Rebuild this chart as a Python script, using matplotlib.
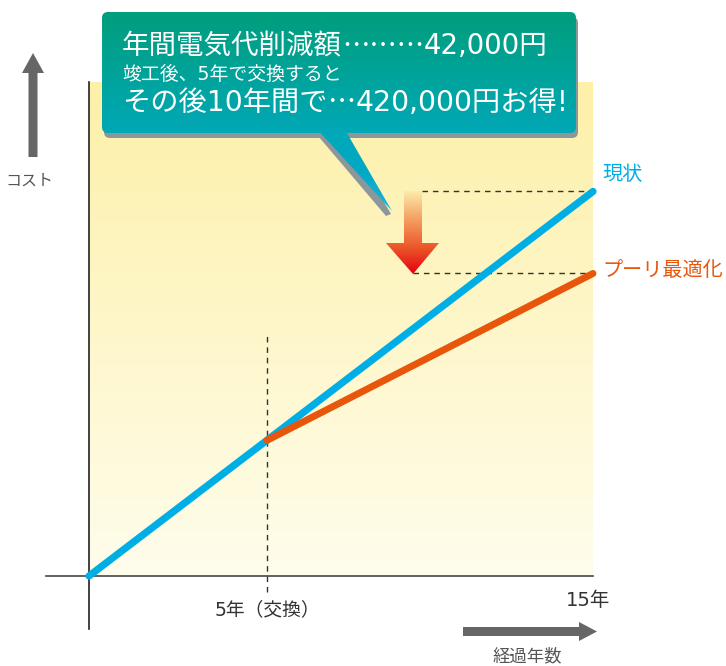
import re
import numpy as np
import matplotlib
matplotlib.use("Agg")
import matplotlib.pyplot as plt
from matplotlib.patches import Polygon, FancyBboxPatch
from matplotlib.colors import LinearSegmentedColormap
from matplotlib.scale import FuncScale

plt.rcParams['font.family'] = ['Noto Sans CJK JP', 'DejaVu Sans']
# wider Latin digits for the headline box, Japanese from Noto
HEAD_FONT = ['DejaVu Sans', 'Noto Sans CJK JP']
CJK_FONT = ['Noto Sans CJK JP', 'DejaVu Sans']

# ---- data (cost in 10,000 yen, time in years) ----
current_years = [0, 15]
current_cost = [0, 197]
optimized_years = [5, 15]
optimized_cost = [69.5, 155]
swap_year = 5
end_year = 15

callout_lines = ["年間電気代削減額………42,000円",
                 "竣工後、5年で交換すると",
                 "その後10年間で…420,000円お得!"]
series_labels = ["現状", "プーリ最適化"]
tick_labels = ["5年（交換）", "15年"]
y_title = "コスト"
x_title = "経過年数"

BLUE = "#00AEE6"
ORANGE = "#E8560C"
GRAY = "#666666"
TEXT = "#333333"

W, H = 726, 666
fig = plt.figure(figsize=(W / 100, H / 100), dpi=100)

# plot area in pixel bounds
L, R, T, B = 89, 593, 82, 576
ax = fig.add_axes([L / W, (H - B) / H, (R - L) / W, (B - T) / H])


# time axis: the first five years get a wider share of the width
def fwd(x):
    x = np.asarray(x, dtype=float)
    return np.where(x <= 5, x * 178 / 5, 178 + (x - 5) * 326 / 10)


def inv(p):
    p = np.asarray(p, dtype=float)
    return np.where(p <= 178, p * 5 / 178, 5 + (p - 178) * 10 / 326)


ax.set_xscale(FuncScale(ax, (fwd, inv)))
ax.set_xlim(0, end_year)
ax.set_ylim(0, (B - T) / 1.952)
ax.set_axis_off()

# background gradient
bg = LinearSegmentedColormap.from_list("bg", ["#FFFDEC", "#FDF0A8"])
grad = np.linspace(0, 1, 256).reshape(-1, 1)
ax.imshow(grad, cmap=bg, origin="lower", extent=[0, 1, 0, 1],
          transform=ax.transAxes, aspect="auto", zorder=0)

# axis lines
ax.plot([(46 - L) / (R - L), 1], [0, 0], transform=ax.transAxes,
        color="#4a4540", lw=1.2, clip_on=False, zorder=2)
ax.plot([0, 0], [(B - 629) / (B - T), 1], transform=ax.transAxes,
        color="#222222", lw=1.2, clip_on=False, zorder=2)

# guide lines
dash = dict(color="#333333", lw=1.0, dashes=(4, 3.5), clip_on=False, zorder=2)
ax.plot([swap_year, swap_year], [(B - 592) / (B - T), (B - 333) / (B - T)],
        transform=ax.get_xaxis_transform(), **dash)
ax.plot([(422 - L) / (R - L), 1], [current_cost[-1]] * 2,
        transform=ax.get_yaxis_transform(), **dash)
ax.plot([(413 - L) / (R - L), 1], [optimized_cost[-1]] * 2,
        transform=ax.get_yaxis_transform(), **dash)

# series
ax.plot(current_years, current_cost, color=BLUE, lw=5.2,
        solid_capstyle="round", clip_on=False, zorder=4)
ax.plot(optimized_years, optimized_cost, color=ORANGE, lw=5.0,
        solid_capstyle="round", clip_on=False, zorder=5)

# ---- overlay in pixel coordinates for annotations ----
ov = fig.add_axes([0, 0, 1, 1], zorder=10)
ov.set_xlim(0, W)
ov.set_ylim(H, 0)
ov.set_axis_off()
ov.patch.set_alpha(0)
renderer = fig.canvas.get_renderer()


def gradient_fill(patch, colors, x0, x1, y0, y1):
    ov.add_patch(patch)
    cm = LinearSegmentedColormap.from_list("g", colors)
    im = ov.imshow(np.linspace(0, 1, 256).reshape(-1, 1), cmap=cm,
                   extent=[x0, x1, y1, y0], aspect="auto",
                   origin="upper", zorder=patch.get_zorder())
    im.set_clip_path(patch)
    patch.set_facecolor("none")
    patch.set_edgecolor("none")


def text_runs(x, y, line, size, color):
    """Write a line left to right; ellipses use the CJK (mid-height) dots."""
    for piece in re.split(r"(…+)", line):
        if not piece:
            continue
        fam = CJK_FONT if piece.startswith("…") else HEAD_FONT
        t = ov.text(x, y, piece, color=color, fontsize=size, family=fam,
                    ha="left", va="baseline", zorder=5)
        bb = t.get_window_extent(renderer)
        x = ov.transData.inverted().transform((bb.x1, bb.y0))[0]


# callout shadow
shadow_col = "#8C979B"
ov.add_patch(FancyBboxPatch((104, 17), 474, 121,
                            boxstyle="round,pad=0,rounding_size=6",
                            fc=shadow_col, ec="none", zorder=1))
ov.add_patch(Polygon([[313, 130], [342, 130], [391, 214], [386, 216]],
                     closed=True, fc=shadow_col, ec="none", zorder=1))

# callout body
body = FancyBboxPatch((102, 12), 474, 121,
                      boxstyle="round,pad=0,rounding_size=6", zorder=2)
gradient_fill(body, ["#009E7C", "#00A8B6"], 102, 576, 12, 133)
tail = Polygon([[316, 128], [344, 128], [392, 211]], closed=True, zorder=2)
gradient_fill(tail, ["#00A8B8", "#00A9C4", "#1EB4DC"], 310, 395, 128, 212)

text_runs(122, 54, callout_lines[0], 19.8, "white")
text_runs(122, 79.5, callout_lines[1], 13.6, "white")
text_runs(122, 111, callout_lines[2], 20.3, "white")

# downward reduction arrow
darrow = Polygon([[404, 191], [422, 191], [422, 243], [439, 243],
                  [413, 274], [386, 243], [404, 243]], closed=True, zorder=3)
gradient_fill(darrow, ["#FDEBAA", "#F4A064", "#EC5A2A", "#E50012"],
              386, 439, 191, 274)

# axis direction arrows
ov.add_patch(Polygon([[28.5, 157], [37.5, 157], [37.5, 73], [44, 73],
                      [33, 53], [22, 73], [28.5, 73]], closed=True,
                     fc=GRAY, ec="none", zorder=3))
ov.add_patch(Polygon([[463, 627], [579, 627], [579, 622], [597, 631.5],
                      [579, 641], [579, 636], [463, 636]], closed=True,
                     fc=GRAY, ec="none", zorder=3))

# labels
ov.text(29, 181, y_title, color="#555555", fontsize=11.5,
        ha="center", va="center")
ov.text(527, 656, x_title, color="#555555", fontsize=12.5,
        ha="center", va="center")
ov.text(267, 610, tick_labels[0], color=TEXT, fontsize=13.5,
        family=HEAD_FONT, ha="center", va="center")
ov.text(588, 600, tick_labels[1], color=TEXT, fontsize=14,
        family=HEAD_FONT, ha="center", va="center")
ov.text(602, 175, series_labels[0], color=BLUE, fontsize=14.5,
        ha="left", va="center")
ov.text(602, 270, series_labels[1], color=ORANGE, fontsize=14.5,
        ha="left", va="center")

fig.savefig("out.png", dpi=100)
